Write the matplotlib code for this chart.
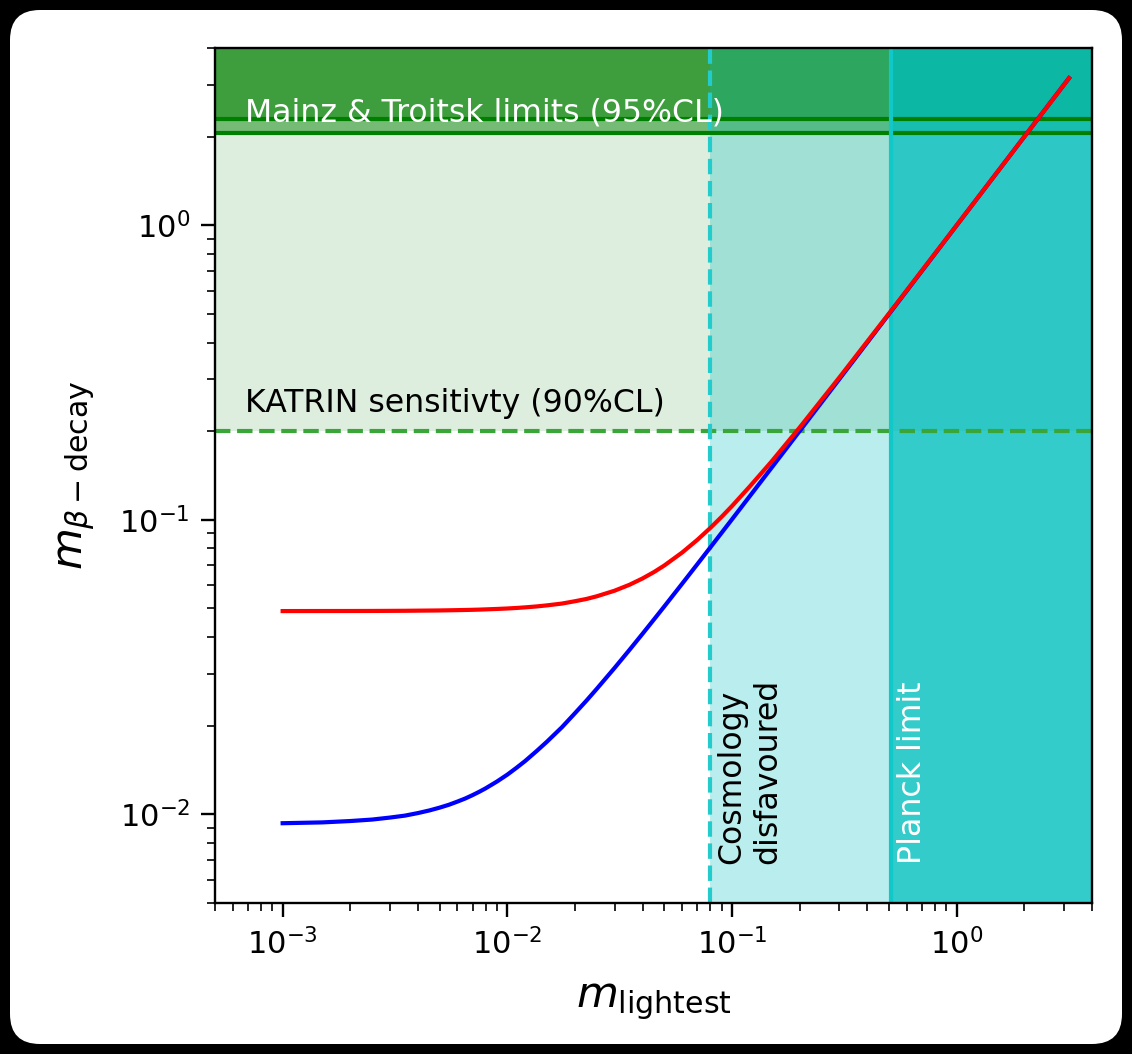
import numpy as np
import matplotlib
matplotlib.use('Agg')
import matplotlib.pyplot as plt
from matplotlib.patches import FancyBboxPatch
from matplotlib.transforms import IdentityTransform

# lightest neutrino mass (eV) and effective beta-decay mass for both orderings
m_lightest = [0.001, 0.0015, 0.002, 0.0025, 0.003, 0.0035, 0.004, 0.0045, 0.005,
              0.0055, 0.006, 0.0065, 0.007, 0.0075, 0.008, 0.009, 0.01, 0.011,
              0.012, 0.0135, 0.015, 0.0175, 0.02, 0.0225, 0.025, 0.03, 0.035,
              0.04, 0.045, 0.05, 0.06, 0.07, 0.08, 0.09, 0.1, 0.12, 0.15, 0.2,
              0.3, 0.5, 1.0, 2.0, 3.16]
m_beta_normal = [0.00933, 0.00939, 0.00949, 0.00960, 0.00975, 0.00990, 0.0101,
                 0.01031, 0.01054, 0.01078, 0.01105, 0.01132, 0.01162, 0.01193,
                 0.01225, 0.01293, 0.01364, 0.01440, 0.01517, 0.01640, 0.01764,
                 0.01976, 0.02205, 0.02433, 0.02667, 0.0314, 0.03621, 0.04106,
                 0.04595, 0.05085, 0.06071, 0.07061, 0.08054, 0.09048, 0.10043,
                 0.12036, 0.1503, 0.2002, 0.3001, 0.5, 1.0, 2.0, 3.16]
m_beta_inverted = [0.049, 0.04902, 0.04903, 0.04905, 0.04908, 0.04911, 0.04916,
                   0.04920, 0.04924, 0.04930, 0.04936, 0.04942, 0.04949, 0.04956,
                   0.04965, 0.04982, 0.05, 0.05021, 0.05044, 0.05081, 0.05123,
                   0.05196, 0.05292, 0.05387, 0.055, 0.05745, 0.06021, 0.06325,
                   0.06652, 0.07, 0.07746, 0.08544, 0.09381, 0.10247, 0.1114,
                   0.12986, 0.1578, 0.2059, 0.304, 0.5024, 1.0012, 2.0006, 3.1604]

mainz_limit = 2.3
troitsk_limit = 2.05
katrin_sens = 0.2
cosmo_limit = 0.08
planck_limit = 0.51

fig = plt.figure(figsize=(11.32, 10.54), dpi=100, facecolor='black')
card = FancyBboxPatch((10, 10), 1112, 1034, boxstyle='round,pad=0,rounding_size=30',
                      transform=IdentityTransform(), facecolor='white', edgecolor='none',
                      zorder=-10)
fig.patches.append(card)

ax = fig.add_axes([215/1132, 1-903/1054, 877/1132, 855/1054])
ax.set_xscale('log')
ax.set_yscale('log')
ax.set_xlim(5e-4, 4)
ax.set_ylim(5e-3, 4)

# excluded / sensitivity bands
ax.axhspan(katrin_sens, 4, color='g', alpha=0.13, lw=0)
ax.axhspan(troitsk_limit, 4, color='g', alpha=0.47, lw=0)
ax.axhspan(mainz_limit, 4, color='g', alpha=0.47, lw=0)
ax.axvspan(cosmo_limit, 4, color='c', alpha=0.27, lw=0)
ax.axvspan(planck_limit, 4, color='c', alpha=0.72, lw=0)

ax.axhline(mainz_limit, color='g', lw=3)
ax.axhline(troitsk_limit, color='g', lw=3)
ax.axhline(katrin_sens, color='#3aa63a', ls='--', lw=3)
ax.axvline(cosmo_limit, color='#22cccc', ls='--', lw=3)
ax.axvline(planck_limit, color='#11c8c8', lw=3)

ax.plot(m_lightest, m_beta_normal, color='blue', lw=3)
ax.plot(m_lightest, m_beta_inverted, color='red', lw=3)

ax.text(6.8e-4, 2.14, 'Mainz & Troitsk limits (95%CL)', color='white', fontsize=22.7,
        va='bottom')
ax.text(6.8e-4, 0.22, 'KATRIN sensitivty (90%CL)', color='black', fontsize=22.7,
        va='bottom')
ax.text(0.085, 0.0068, 'Cosmology\ndisfavoured', rotation=90, fontsize=22.7,
        va='bottom', ha='left')
ax.text(0.545, 0.0068, 'Planck limit', rotation=90, fontsize=22.7, color='white',
        va='bottom', ha='left')

ax.set_xlabel(r'$m_{\rm lightest}$', fontsize=31, labelpad=14)
ax.set_ylabel(r'$m_{\beta-\rm decay}$', fontsize=31, labelpad=16)
ax.tick_params(which='major', length=10, width=1.7, labelsize=22, pad=8)
ax.tick_params(which='minor', length=5.5, width=1.2)
for s in ax.spines.values():
    s.set_linewidth(1.7)

fig.savefig('out.png', dpi=100, facecolor='black')
